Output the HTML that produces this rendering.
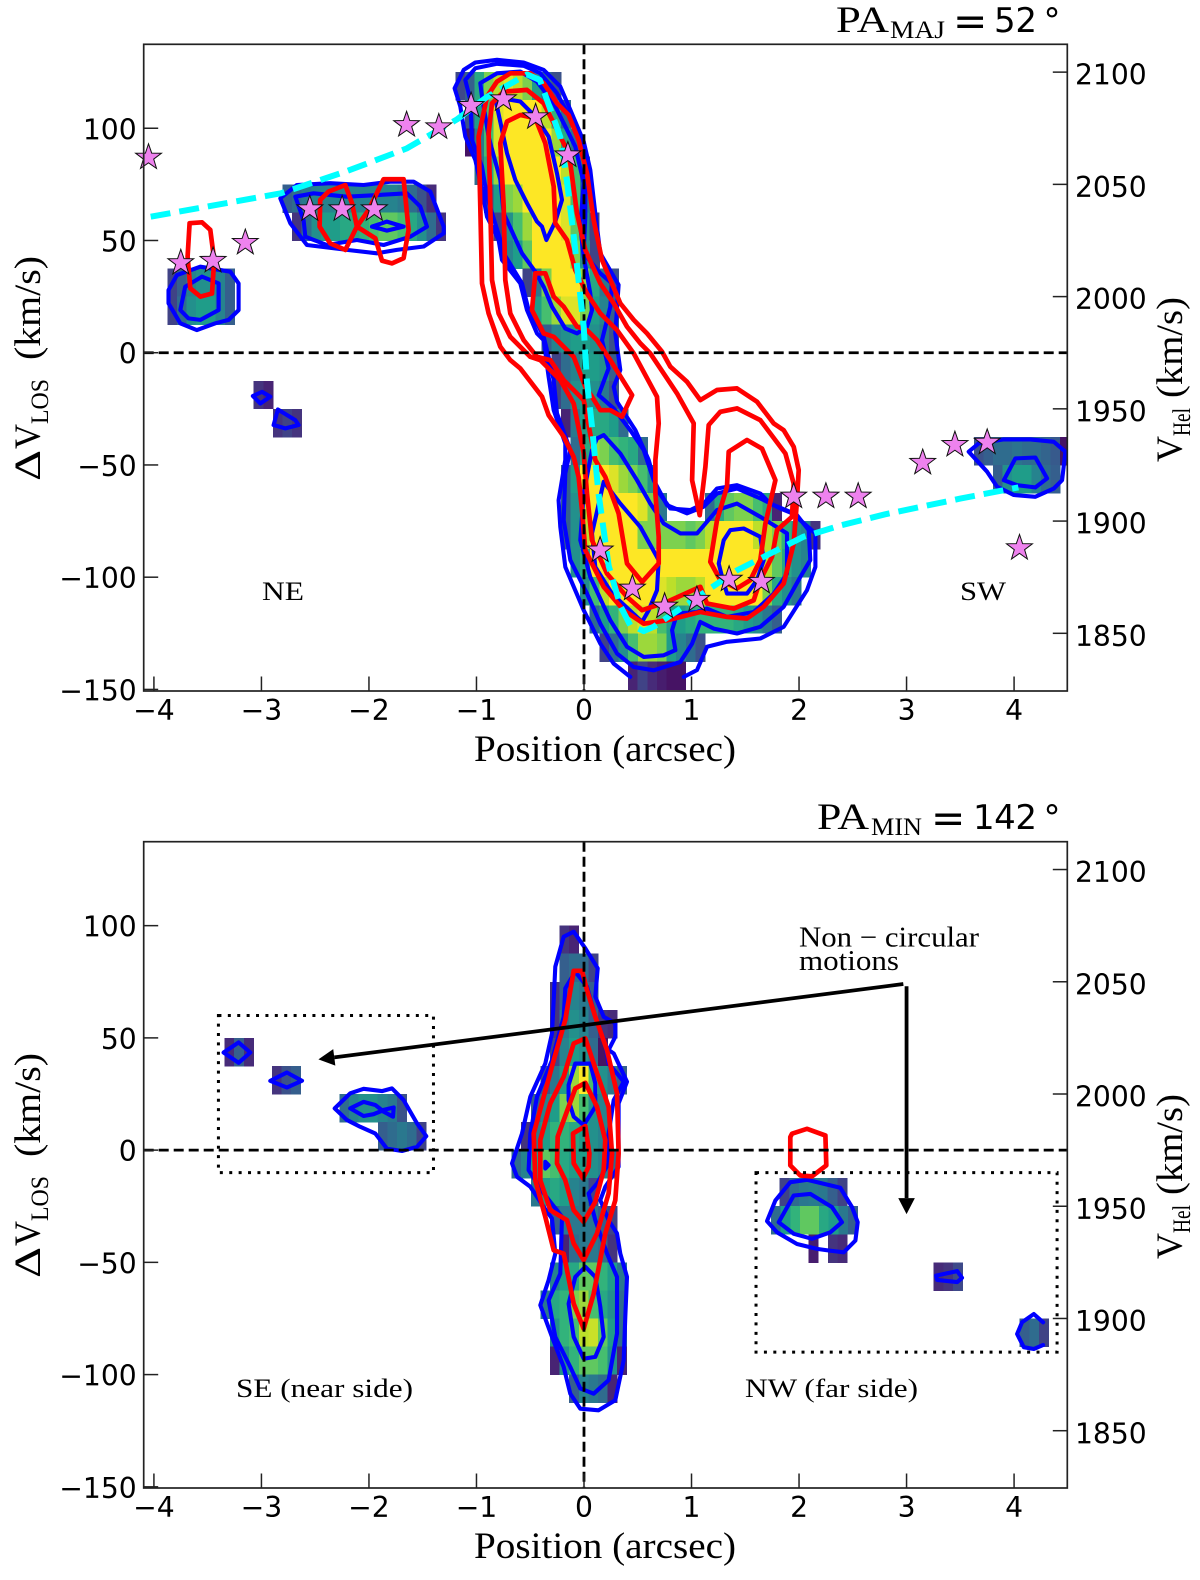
<!DOCTYPE html>
<html lang="en">
<head>
<meta charset="utf-8">
<title>Position-velocity diagrams along PA major and minor axes</title>
<style>
html,body{margin:0;padding:0;background:#fff;}
svg{display:block;}
.tick{font-family:"DejaVu Sans",sans-serif;font-size:28.2px;fill:#000;}
.serif{font-family:"Liberation Serif",serif;fill:#000;}
.dj{font-family:"DejaVu Sans",sans-serif;fill:#000;}
</style>
</head>
<body>
<svg id="chart" xmlns="http://www.w3.org/2000/svg" width="1200" height="1580" viewBox="0 0 1200 1580">
<defs>
<clipPath id="clip-maj"><rect x="143.7" y="44.3" width="923.6" height="646.7"/></clipPath>
<clipPath id="clip-min"><rect x="143.7" y="841.7" width="923.6" height="646.3"/></clipPath>
</defs>
<g id="panel-maj"></g>
<g id="panel-min"></g>

<text class="serif" x="474" y="761" font-size="37" textLength="262" lengthAdjust="spacingAndGlyphs">Position (arcsec)</text>
<text class="serif" x="474" y="1558" font-size="37" textLength="262" lengthAdjust="spacingAndGlyphs">Position (arcsec)</text>

<g>
<text class="serif" font-size="37" transform="translate(40,481) rotate(-90)" textLength="31" lengthAdjust="spacingAndGlyphs">Δ</text>
<text class="serif" font-size="37" transform="translate(40,449) rotate(-90)" textLength="25" lengthAdjust="spacingAndGlyphs">V</text>
<text class="serif" font-size="25" transform="translate(48,424) rotate(-90)" textLength="45" lengthAdjust="spacingAndGlyphs">LOS</text>
<text class="serif" font-size="37" transform="translate(40,360) rotate(-90)" textLength="104" lengthAdjust="spacingAndGlyphs">(km/s)</text>
</g>
<g>
<text class="serif" font-size="37" transform="translate(40,1278) rotate(-90)" textLength="31" lengthAdjust="spacingAndGlyphs">Δ</text>
<text class="serif" font-size="37" transform="translate(40,1246) rotate(-90)" textLength="25" lengthAdjust="spacingAndGlyphs">V</text>
<text class="serif" font-size="25" transform="translate(48,1221) rotate(-90)" textLength="45" lengthAdjust="spacingAndGlyphs">LOS</text>
<text class="serif" font-size="37" transform="translate(40,1157) rotate(-90)" textLength="104" lengthAdjust="spacingAndGlyphs">(km/s)</text>
</g>
<g>
<text class="serif" font-size="37" transform="translate(1182,462) rotate(-90)" textLength="26" lengthAdjust="spacingAndGlyphs">V</text>
<text class="serif" font-size="25" transform="translate(1190,436) rotate(-90)" textLength="28" lengthAdjust="spacingAndGlyphs">Hel</text>
<text class="serif" font-size="37" transform="translate(1182,398) rotate(-90)" textLength="101" lengthAdjust="spacingAndGlyphs">(km/s)</text>
</g>
<g>
<text class="serif" font-size="37" transform="translate(1182,1259) rotate(-90)" textLength="26" lengthAdjust="spacingAndGlyphs">V</text>
<text class="serif" font-size="25" transform="translate(1190,1233) rotate(-90)" textLength="28" lengthAdjust="spacingAndGlyphs">Hel</text>
<text class="serif" font-size="37" transform="translate(1182,1195) rotate(-90)" textLength="101" lengthAdjust="spacingAndGlyphs">(km/s)</text>
</g>

<g>
<text class="serif" font-size="37" x="836" y="32" textLength="53" lengthAdjust="spacingAndGlyphs">PA</text>
<text class="serif" font-size="25" x="890" y="38" textLength="55" lengthAdjust="spacingAndGlyphs">MAJ</text>
<text class="dj" font-size="41" x="953" y="35">=</text>
<text class="dj" font-size="34" x="994" y="32" textLength="43">52</text>
<text class="dj" font-size="34" x="1043.5" y="32">°</text>
</g>
<g>
<text class="serif" font-size="37" x="817" y="829" textLength="52" lengthAdjust="spacingAndGlyphs">PA</text>
<text class="serif" font-size="25" x="871" y="835" textLength="51" lengthAdjust="spacingAndGlyphs">MIN</text>
<text class="dj" font-size="41" x="931" y="832">=</text>
<text class="dj" font-size="34" x="973" y="829" textLength="64">142</text>
<text class="dj" font-size="34" x="1043.5" y="829">°</text>
</g>

<text class="serif" font-size="26" x="262" y="600" textLength="42" lengthAdjust="spacingAndGlyphs">NE</text>
<text class="serif" font-size="26" x="960" y="600" textLength="46" lengthAdjust="spacingAndGlyphs">SW</text>
<text class="serif" font-size="26" x="236" y="1397" textLength="177" lengthAdjust="spacingAndGlyphs">SE (near side)</text>
<text class="serif" font-size="26" x="745" y="1397" textLength="173" lengthAdjust="spacingAndGlyphs">NW (far side)</text>
<text class="serif" font-size="28" x="799" y="946.7" textLength="180" lengthAdjust="spacingAndGlyphs">Non − circular</text>
<text class="serif" font-size="28" x="799" y="970" textLength="100" lengthAdjust="spacingAndGlyphs">motions</text>
</svg>

<script>
/* ---------- axis ticks ---------- */
const xTicks = [-4, -3, -2, -1, 0, 1, 2, 3, 4];
const yTicks = [-150, -100, -50, 0, 50, 100];
const helioTicks = [1850, 1900, 1950, 2000, 2050, 2100];
const systemicVelocity = 1975;

/* ---------- major-axis heat map: row velocity, left edge (arcsec), cell levels 0..1 ---------- */
const majHeatVel = [118.75,106.25,93.75,81.25,68.75,56.25,43.75,31.25,18.75,6.25,-6.25,-18.75,-31.25,-43.75,-56.25,-68.75,-68.75,-81.25,-93.75,-106.25,-118.75,-131.25,-143.75,
  31.25,18.75,68.75,56.25,-18.75,-31.25,-43.75,-56.25];
const majHeatStart = [-1.197,-1.108,-1.108,-1.018,-.929,-.84,-.75,-.572,-.483,-.393,-.304,-.304,-.215,-.125,-.215,-.215,1.125,-.215,-.125,-.036,.053,.143,.41,
  -3.876,-3.876,-2.804,-2.715,-3.072,-2.894,3.625,3.804];
const majHeatVals = [
 [.22,.3,.6,.8,.9,.95,.9,.8,.55,.35,.25],
 [.25,.55,.7,.95,1,1,1,1,.9,.65,.35],
 [.05,.4,.7,.95,1,1,1,1,1,.85,.6,.35],
 [.35,.6,.85,1,1,1,1,1,1,.9,.7,.4],
 [.25,.55,.8,.85,1,1,1,1,.95,.7,.4],
 [.2,.5,.7,.85,1,1,1,.95,.75,.5,.2],
 [.45,.55,.75,1,1,1,1,.8,.5,.2],
 [.2,.4,.8,1,1,1,.85,.6,.4,.25],
 [.55,.7,.85,.95,.95,.8,.55,.45,.3],
 [.3,.45,.5,.55,.55,.5,.4,.25],
 [.2,.35,.45,.55,.55,.5,.3],
 [.2,.35,.5,.55,.5,.4,.25],
 [.1,.4,.55,.6,.6,.55,.35],
 [.35,.6,.85,.8,.7,.65,.6,.35],
 [.3,.55,1,1,1,.95,.85,.8,.7,.5],
 [.3,.5,.9,1,1,1,1,1,.95,.8,.4],
 [.35,.6,.75,.8,.8,.7,.6,.1],
 [.3,.5,.9,1,1,1,1,1,.8,.8,.8,.8,.8,.75,.8,.9,1,1,1,1,.9,.9,.8,.65,.5,.45,.15],
 [.5,.6,1,1,1,1,1,1,1,1,1,1,1,1,1,1,1,1,1,1,.9,.75,.6,.5,.45],
 [.5,.7,.9,1,1,1,1,1,.95,.9,.85,.85,.9,1,1,1,1,1,1,.8,.6,.5,.4],
 [.35,.55,.65,.8,.9,.95,.9,.7,.55,.55,.6,.65,.65,.65,.65,.6,.55,.5,.4,.3],
 [.2,.35,.5,.7,.85,.85,.8,.55,.45,.35,.25],
 [.1,.2,.12,.08,.05,.05],
 [.2,.3,.45,.5,.5,.45,.3],
 [.2,.35,.5,.55,.55,.45,.3],
 [.3,.35,.4,.45,.45,.45,.45,.45,.45,.45,.45,.45,.4,.35,.25,.12],
 [.15,.35,.5,.55,.55,.6,.6,.65,.7,.75,.75,.7,.6,.5,.35,.15],
 [.15,.1],
 [.15,.2,.15],
 [.25,.3,.35,.35,.38,.35,.35,.32,.28,.05],
 [.3,.5,.55,.55,.45,.35,.3]
];

/* ---------- minor-axis heat map ---------- */
const minHeatVel = [93.75,81.25,68.75,56.25,43.75,31.25,18.75,6.25,-6.25,-18.75,-31.25,-43.75,-56.25,-68.75,-81.25,-93.75,-106.25,
  43.75,31.25,18.75,6.25,-18.75,-31.25,-43.75,-43.75,-56.25,-81.25];
const minHeatStart = [-.227,-.227,-.316,-.316,-.316,-.406,-.495,-.584,-.674,-.495,-.316,-.227,-.316,-.406,-.316,-.316,-.138,
  -3.343,-2.902,-2.276,-1.916,1.82,1.74,2.089,2.27,3.252,4.052];
const minHeatVals = [
 [.15,.1],
 [.3,.35,.35,.2],
 [.15,.3,.45,.4,.3],
 [.15,.4,.5,.45,.3,.15,.12],
 [.2,.45,.55,.5,.35,.05],
 [.25,.4,.55,.85,1,.7,.5,.4,.3],
 [.3,.45,.55,.8,.85,.7,.5,.45],
 [.15,.4,.55,.65,.65,.6,.55,.5,.45],
 [.35,.45,.55,.75,.7,.6,.55,.55,.5,.45,.35],
 [.4,.55,.6,.55,.45,.4,.2],
 [.3,.4,.4,.4,.4,.3,.2],
 [.1,.35,.4,.4,.35,.15],
 [.45,.55,.6,.75,.75,.65,.55,.4],
 [.4,.6,.65,.8,.85,.7,.6,.5,.35],
 [.5,.65,.7,.9,.92,.75,.55,.35],
 [.1,.5,.65,.75,.75,.7,.5,.1],
 [.3,.45,.4,.35,.1],
 [.12,.3,.12],
 [.15,.25,.3],
 [.35,.45,.5,.5,.45,.4,.25],
 [.3,.35,.4,.35,.2],
 [.2,.35,.4,.42,.4,.3,.2],
 [.35,.55,.65,.75,.75,.6,.55,.4,.3],
 [.08],
 [.15,.12],
 [.12,.15,.22],
 [.3,.35,.2]
];

/* ---------- rotation model and stellar points ---------- */
const rotationPos = [-4.03,-2.82,-2.2,-1.65,-1.18,-.9,-.53,-.41,-.22,-.16,-.096,-.003,.028,.074,.136,.23,.34,.43,.555,.65,1.42,2.04,2.38,2.8,3.5,4.04];
const rotationVel = [60.6,71,81,91,104,114,124,121.5,96,77,52,11.6,-13,-33,-63,-95,-113,-121.4,-124,-122,-97,-82,-77,-72,-65,-60];
const starPos = [-4.05,-3.75,-3.45,-3.15,-2.55,-2.25,-1.95,-1.65,-1.35,-1.05,-.75,-.45,-.15,.15,.45,.75,1.05,1.35,1.65,1.95,2.25,2.55,3.15,3.45,3.75,4.05];
const starVel = [87,40,41,49,64,64,64,101.5,100.5,110,113,105,88,-88,-105,-113,-110,-101,-102,-64,-64,-64,-49,-41,-40,-87];

/* ---------- major-axis contours [arcsec, km/s] ---------- */
const majBlueOuter = [[.431,-144.4],[.276,-138.5],[.152,-129.6],[-.003,-114.7],[-.174,-95.4],[-.22,-77.6],[-.236,-65.7],[-.174,-47.8],[-.174,-40.4],[-.282,-25.6],[-.329,-10.7],[-.375,5.6],[-.437,8.6],[-.53,19],[-.592,30.9],[-.763,41.3],[-.794,50.2],[-.902,60.6],[-.949,72.5],[-1.011,85.9],[-1.104,96.3],[-1.15,109.7],[-1.203,117.8],[-1.119,126],[-1.011,129.3],[-.809,130.5],[-.561,129.3],[-.375,126],[-.22,118.6],[-.127,108.2],[-.003,94.1],[.059,81.4],[.105,62.1],[.152,44.3],[.322,30.2],[.291,8.6],[.338,-7.7],[.276,-15.2],[.307,-21.8],[.478,-34.5],[.602,-47.8],[.679,-61.2],[.803,-69.4],[.989,-70.1],[1.113,-67.2],[1.237,-60.5],[1.423,-59],[1.64,-62.7],[1.733,-67.2],[1.919,-70.9],[2.012,-74.6],[2.152,-80.5],[2.152,-95.4],[2.074,-105.8],[1.857,-122.1],[1.64,-127.3],[1.33,-128.8],[1.144,-131],[1.051,-141.4],[.927,-144.4]];
const majBlueMid = [[.648,-141.5],[.462,-140],[.307,-134],[.152,-120.7],[.028,-107.3],[-.127,-92.4],[-.189,-74.6],[-.174,-53.8],[-.127,-43.4],[-.251,-27],[-.282,-12.2],[-.329,-1.8],[-.375,7.1],[-.422,11.6],[-.515,19],[-.577,30.9],[-.747,44.3],[-.778,50.2],[-.902,69.5],[-.949,82.9],[-1.042,94.8],[-1.057,112.6],[-1.104,121.5],[-1.011,126.7],[-.809,128.7],[-.561,127.8],[-.406,124.5],[-.251,115.6],[-.143,105.9],[-.034,94.8],[.012,82.9],[.012,60.6],[-.003,44.3],[.152,35.4],[.26,30.9],[.245,20.5],[.167,5.6],[.229,-7],[.136,-18.9],[.276,-24.8],[.431,-34.5],[.555,-43.4],[.648,-56.8],[.772,-67.9],[.958,-71.6],[1.113,-68.6],[1.237,-62.7],[1.423,-60.5],[1.64,-64.9],[1.826,-69.4],[1.981,-72.4],[2.09,-79],[2.105,-92.4],[2.012,-99.9],[1.857,-113.2],[1.64,-122.1],[1.423,-125.1],[1.206,-122.9],[1.082,-119.9],[1.005,-129.6],[.896,-137.8]];
const majBlueUpper = [[-.949,114.1],[-.964,120.1],[-.809,124.5],[-.592,125.3],[-.437,120.8],[-.282,111.1],[-.158,99.3],[-.081,91.8],[-.003,75.5],[-.034,56.2],[-.003,42.8],[.059,26.4],[.074,19],[.028,11.6],[-.065,8.6],[-.174,10.8],[-.298,20.5],[-.375,29.4],[-.453,36.1],[-.577,44.3],[-.747,62.1],[-.778,77],[-.887,96.3]];
const majBlueLower = [[.074,-43.4],[.121,-38.2],[.183,-36.7],[.338,-44.9],[.493,-56.8],[.617,-67.2],[.741,-76.1],[.896,-80.5],[1.051,-80.5],[1.237,-70.1],[1.423,-67.2],[1.64,-73.1],[1.888,-80.5],[1.888,-98.4],[1.764,-107.3],[1.578,-115.5],[1.33,-117.7],[1.144,-114],[1.051,-115.5],[.865,-116.2],[.819,-123.6],[.85,-132.5],[.741,-134.8],[.555,-135.5],[.4,-131],[.245,-119.2],[.059,-99.9],[-.034,-83.5],[-.003,-62.7]];
const majBlueCoreTop = [[-.816,111.1],[-.716,88.9],[-.639,77],[-.53,66.6],[-.437,58.4],[-.391,56.2],[-.35,50.2],[-.267,58.4],[-.205,68.1],[-.251,79.9],[-.329,96.3],[-.453,105.2],[-.592,111.9],[-.778,113.4]];
const majBlueCoreLow = [[.183,-57.5],[.074,-80.5],[.105,-95.4],[.26,-107.3],[.54,-119.9],[.602,-114.7],[.679,-105.8],[.695,-92.4],[.524,-77.6],[.338,-67.2]];
const majBlueCoreRight = [[1.299,-83.5],[1.361,-79],[1.485,-78.3],[1.64,-82],[1.671,-92.4],[1.609,-101.3],[1.516,-107.3],[1.33,-107.3],[1.284,-99.9],[1.253,-93.9]];
const majBlueBlobA = [[-3.864,27.9],[-3.786,34.6],[-3.569,38.3],[-3.29,36.1],[-3.212,30.9],[-3.212,19],[-3.305,14.6],[-3.429,13.1],[-3.6,10.1],[-3.755,13.1],[-3.864,22]];
const majBlueBlobAInner = [[-3.755,19],[-3.709,29.4],[-3.553,33.9],[-3.398,30.9],[-3.398,19],[-3.569,14.6],[-3.678,15.3]];
const majBlueBlobB = [[-2.825,68.8],[-2.67,74.7],[-2.36,75.5],[-2.05,74.7],[-1.802,76.2],[-1.585,76.2],[-1.429,71.8],[-1.305,56.2],[-1.305,53.2],[-1.491,47.3],[-1.74,45.8],[-1.926,44.3],[-2.205,45.8],[-2.577,48],[-2.732,57.7]];
const majBlueBlobBInner = [[-2.685,69.5],[-2.515,71],[-2.205,69.5],[-1.895,70.3],[-1.647,71],[-1.522,65.1],[-1.46,56.2],[-1.616,51.7],[-1.864,48],[-2.112,50.2],[-2.391,48],[-2.592,51.7],[-2.608,59.1]];
const majBlueBlobBCore = [[-1.972,56.2],[-1.833,58.4],[-1.678,56.2],[-1.833,54.4]];
const majBlueSpotA = [[-3.079,-19.3],[-2.995,-17.4],[-2.918,-19.6],[-3.011,-22.6]];
const majBlueSpotB = [[-2.847,-25.3],[-2.685,-30],[-2.654,-32.2],[-2.778,-33.7],[-2.887,-32.2]];
const majBlueSw = [[3.578,-44.1],[3.671,-40.4],[3.904,-38.6],[4.152,-38.6],[4.369,-39.7],[4.477,-44.1],[4.447,-56.8],[4.369,-60.5],[4.198,-64.2],[3.997,-63.4],[3.842,-59.7],[3.749,-53]];
const majBlueSwInner = [[3.904,-56.8],[4.012,-47.1],[4.198,-46.7],[4.307,-56],[4.198,-60],[4.028,-59]];
const majRedOuter = [[-.499,124.5],[-.375,120.1],[-.251,111.1],[-.143,105.9],[-.05,94.8],[.028,79.9],[.09,59.1],[.167,41.3],[.338,22],[.462,14.6],[.586,8.6],[.726,.4],[.803,-6.2],[.958,-12.9],[1.082,-21.1],[1.237,-16.6],[1.423,-15.9],[1.609,-21.8],[1.764,-31.5],[1.857,-34.5],[1.95,-41.9],[1.997,-52.3],[1.981,-65.7],[1.95,-85],[1.857,-102.8],[1.671,-113.2],[1.516,-118.4],[1.33,-117.7],[1.082,-115.5],[.772,-119.2],[.555,-120.7],[.369,-114.7],[.183,-104.3],[.012,-88],[-.019,-70.1],[-.05,-55.3],[-.096,-46.4],[-.189,-37.4],[-.329,-27.8],[-.391,-19.6],[-.592,-7],[-.685,-3.3],[-.778,2.7],[-.887,17.5],[-.949,30.9],[-.964,65.1],[-.98,96.3],[-.902,114.1],[-.809,120.8],[-.685,124.5]];
const majRedMid = [[-.53,117.1],[-.375,111.1],[-.251,99.3],[-.158,90.3],[-.127,84.4],[-.065,62.1],[.012,45.8],[.152,30.9],[.276,22],[.4,11.6],[.524,4.2],[.617,-.3],[.865,-18.1],[1.02,-31.5],[1.005,-56.8],[1.076,-72.4],[1.129,-50.8],[1.16,-32.2],[1.268,-26.3],[1.423,-24.8],[1.64,-30],[1.873,-44.9],[1.95,-58.3],[1.935,-73.1],[1.795,-79],[1.749,-90.9],[1.64,-101.3],[1.578,-110.3],[1.392,-114],[1.144,-111.7],[1.082,-104.3],[.772,-111],[.54,-114.7],[.4,-108.8],[.214,-98.4],[.074,-83.5],[.028,-62.7],[-.003,-44.9],[-.096,-22.6],[-.22,-12.2],[-.406,-3.3],[-.499,-1.8],[-.685,7.1],[-.794,17.5],[-.856,32.4],[-.871,65.1],[-.887,97.8],[-.856,111.1],[-.747,116.3]];
const majRedInner = [[-.592,105.9],[-.453,104.5],[-.36,93.3],[-.282,74],[-.267,57.7],[-.158,50.2],[-.081,36.8],[.028,26.4],[.152,17.5],[.307,10.1],[.462,-.3],[.679,-19.6],[.695,-31.5],[.664,-47.8],[.664,-62.7],[.695,-82],[.695,-93.9],[.54,-102.1],[.4,-93.9],[.322,-71.6],[.198,-55.3],[.105,-47.8],[-.003,-21.1],[-.189,-12.2],[-.313,-3.3],[-.437,-1.8],[-.561,5.6],[-.685,17.5],[-.732,32.4],[-.747,65.1],[-.778,93.3],[-.716,103]];
const majRedLobe = [[-.453,35.4],[-.36,35.4],[-.282,25],[-.189,20.5],[-.065,11.6],[.028,10.1],[.121,5.6],[.245,-3.3],[.447,-18.9],[.353,-28.5],[.245,-25.6],[.152,-25.6],[.074,-19.6],[.012,-15.2],[-.096,-1.8],[-.282,7.1],[-.375,8.6],[-.484,19]];
const majRedHook = [[1.346,-44.1],[1.516,-38.9],[1.656,-42.7],[1.78,-56.8],[1.687,-76.1],[1.64,-92.4],[1.547,-101.3],[1.423,-105],[1.268,-101.3],[1.175,-93.2],[1.237,-74.6],[1.33,-59.7]];
const majRedBlobA = [[-3.668,57.7],[-3.553,58.1],[-3.476,54.7],[-3.439,41.3],[-3.46,26.4],[-3.569,25],[-3.662,28.7],[-3.687,42.8]];
const majRedBlobB = [[-2.453,68.1],[-2.375,71.8],[-2.22,74.7],[-2.158,66.6],[-2.112,56.2],[-2.22,45.8],[-2.36,48.7],[-2.459,56.2]];
const majRedBlobC = [[-2.112,56.2],[-2.003,63.6],[-1.864,77.3],[-1.678,77.3],[-1.631,54.7],[-1.678,42.1],[-1.786,39.8],[-1.879,41],[-1.941,51]];

/* ---------- minor-axis contours [arcsec, km/s] ---------- */
const minBlueOuter = [[-.096,97.3],[.012,89.9],[.127,81],[.105,68.4],[.183,59.4],[.291,56.5],[.291,50.5],[.229,44.6],[.276,43.1],[.4,30.5],[.322,20.8],[.322,-7.4],[.198,-16.3],[.152,-22.3],[.229,-31.2],[.307,-37.1],[.338,-46.1],[.4,-56.5],[.384,-74.3],[.369,-93.6],[.291,-111.4],[.136,-115.9],[-.034,-115.2],[-.127,-108.5],[-.189,-96.6],[-.298,-83.2],[-.406,-69.1],[-.329,-57.9],[-.267,-46.1],[-.298,-30.5],[-.375,-25.3],[-.499,-16.3],[-.623,-11.9],[-.67,-5.9],[-.577,7.4],[-.499,23.8],[-.36,38.6],[-.298,52],[-.282,66.9],[-.267,81.7],[-.189,95.1]];
const minBlueMid = [[-.081,79.5],[.028,72.8],[.105,59.4],[.198,47.5],[.229,38.6],[.307,34.2],[.369,30.5],[.276,22.3],[.229,7.4],[.229,-5.9],[.121,-14.9],[.043,-19.3],[.105,-31.2],[.214,-46.1],[.307,-56.5],[.307,-81.7],[.229,-102.5],[.09,-108.5],[-.034,-106.2],[-.127,-96.6],[-.267,-83.2],[-.329,-66.9],[-.22,-55],[-.205,-29.7],[-.375,-19.3],[-.515,-8.9],[-.499,7.4],[-.437,23.8],[-.298,40.1],[-.189,59.4],[-.174,72.1]];
const minBlueCoreTop = [[-.143,29],[-.081,38.6],[.059,38.6],[.105,29.7],[.105,19.3],[-.003,11.1],[-.096,14.9],[-.143,22.3]];
const minBlueCoreLow = [[-.143,-68.4],[-.081,-56.5],[.012,-52],[.105,-56.5],[.152,-69.8],[.183,-83.2],[.105,-92.1],[-.003,-92.9],[-.096,-83.2]];
const minBlueTiny = [[-.36,-5.2],[-.329,-6.7],[-.36,-8.2]];
const minBlueSeA = [[-3.352,43.5],[-3.212,48],[-3.104,43.5],[-3.212,38.9]];
const minBlueSeB = [[-2.918,30.9],[-2.763,34.6],[-2.623,30.9],[-2.763,27.9]];
const minBlueSeC = [[-2.319,18.6],[-2.174,25.3],[-2.05,27.3],[-1.879,26.3],[-1.786,27.5],[-1.678,22.3],[-1.553,11.9],[-1.467,6.2],[-1.553,1.5],[-1.693,-.4],[-1.833,.7],[-1.941,7.4],[-2.081,10.4],[-2.205,13.4]];
const minBlueSeCInner = [[-2.174,18.6],[-2.05,21.5],[-1.941,20.1],[-1.879,17.8],[-1.77,19],[-1.776,14.9],[-1.879,17.5],[-1.957,16],[-2.05,15.2]];
const minBlueNwA = [[1.702,-31.6],[1.78,-22.4],[1.919,-14.3],[2.074,-13.2],[2.384,-16.8],[2.493,-25.4],[2.546,-32.1],[2.524,-40.3],[2.415,-45.5],[2.276,-44.7],[2.167,-44],[1.981,-41.8],[1.795,-36.6]];
const minBlueNwAInner = [[1.811,-32.1],[1.95,-20.2],[2.105,-19.5],[2.307,-25.4],[2.4,-32.1],[2.291,-36.6],[2.121,-39.5],[1.95,-37.3]];
const minBlueNwB = [[3.275,-55.9],[3.471,-53.9],[3.516,-56.9],[3.471,-58.8],[3.284,-57.8]];
const minBlueNwC = [[4.27,-76.7],[4.183,-73],[4.074,-76.7],[4.028,-81.9],[4.09,-87.8],[4.183,-88.6],[4.27,-86.8]];
const minRedOuter = [[-.096,79.9],[-.019,79.9],[.028,71.3],[.105,59.4],[.214,44.6],[.307,25.3],[.322,-1.5],[.291,-22.3],[.198,-37.1],[.09,-63.9],[-.003,-79.5],[-.096,-68.4],[-.189,-46.1],[-.282,-44.6],[-.36,-29.7],[-.453,-13.4],[-.468,7.4],[-.375,23.8],[-.282,40.1],[-.174,58]];
const minRedMid = [[-.096,47.5],[.012,49.8],[.121,34.2],[.229,19.3],[.26,-1.5],[.229,-19.3],[.121,-37.1],[-.003,-49],[-.096,-41.6],[-.158,-31.2],[-.236,-29],[-.313,-26.7],[-.406,-13.4],[-.406,4.5],[-.313,20.8],[-.189,32.7]];
const minRedInner = [[-.081,27.5],[.012,30],[.121,19.3],[.198,4.5],[.183,-8.9],[.105,-23],[-.003,-32],[-.096,-26.7],[-.174,-13.4],[-.251,-5.9],[-.245,6],[-.143,19.3]];
const minRedCore = [[-.102,7.4],[.012,10.7],[.05,-1.5],[.043,-7.4],[-.009,-12.6],[-.096,-5.9]];
const minRedNw = [[1.919,5.8],[1.935,7.3],[2.074,9.5],[2.245,6.5],[2.254,-6.8],[2.121,-11.7],[2.012,-11.3],[1.919,-6.8]];

/* ---------- annotation geometry in data units: x0, x1, v0, v1 ---------- */
const boxLeft = [-3.4, -1.4, 60, -10];
const boxRight = [1.6, 4.4, -10, -90];
const arrowOrigin = [2.97, 74];
const arrowTipLeft = [-2.47, 40.4];
const arrowVerticalStart = [3.0, 73];
const arrowTipDown = [3.0, -28.5];

const majBlue = [majBlueMid,majBlueUpper,majBlueLower,majBlueCoreTop,majBlueCoreLow,majBlueCoreRight,majBlueBlobA,majBlueBlobAInner,majBlueBlobB,majBlueBlobBInner,majBlueBlobBCore,majBlueSpotA,majBlueSpotB,majBlueSw,majBlueSwInner];
const majRed = [majRedOuter,majRedMid,majRedInner,majRedLobe,majRedHook,majRedBlobA,majRedBlobB,majRedBlobC];
const minBlue = [minBlueOuter,minBlueMid,minBlueCoreTop,minBlueCoreLow,minBlueTiny,minBlueSeA,minBlueSeB,minBlueSeC,minBlueSeCInner,minBlueNwA,minBlueNwAInner,minBlueNwB];
const minRed = [minRedOuter,minRedMid,minRedInner,minRedCore,minRedNw];

/* ---------- scales ---------- */
const NS = 'http://www.w3.org/2000/svg';
const AX_L = 143.7, AX_R = 1067.3, X_MIN = -4.095, X_MAX = 4.495;
const V_MAX = 137.4, V_MIN = -150.7, V_SCALE = 2.2447;
const CELL_W = 0.0893, CELL_H = 12.5;
const BLUE_W = 4.1, RED_W = 4.7;
const xScale = x => AX_L + (x - X_MIN) * (AX_R - AX_L) / (X_MAX - X_MIN);
const yScaleFor = top => v => top + (V_MAX - v) * V_SCALE;

const viridis = [[68,1,84],[72,40,120],[62,74,137],[49,104,142],[38,130,142],[31,158,137],[53,183,121],[110,206,88],[181,222,43],[253,231,37]];
function viridisColor(t){
  const p = Math.max(0, Math.min(1, t)) * (viridis.length - 1);
  const i = Math.min(viridis.length - 2, Math.floor(p));
  const f = p - i;
  const c = viridis[i].map((a, k) => Math.round(a + (viridis[i + 1][k] - a) * f));
  return 'rgb(' + c.join(',') + ')';
}

function addEl(parent, tag, attrs, name){
  const el = document.createElementNS(NS, tag);
  for (const k in attrs) el.setAttribute(k, attrs[k]);
  
  
  parent.appendChild(el);
  return el;
}

function pointsOf(list, xs, ys){
  return list.map(p => xs(p[0]).toFixed(1) + ',' + ys(p[1]).toFixed(1)).join(' ');
}

function drawHeat(group, vels, starts, vals, ys){
  vels.forEach((v, r) => {
    vals[r].forEach((t, c) => {
      const x0 = xScale(starts[r] + c * CELL_W);
      const x1 = xScale(starts[r] + (c + 1) * CELL_W);
      const y0 = ys(v + CELL_H / 2);
      const y1 = ys(v - CELL_H / 2);
      addEl(group, 'rect', {x: x0.toFixed(2), y: y0.toFixed(2), width: (x1 - x0 + .4).toFixed(2), height: (y1 - y0 + .4).toFixed(2), fill: viridisColor(t)}, 'heatmap-cell');
    });
  });
}

function drawContour(group, list, ys, color, width, open, name){
  addEl(group, open ? 'polyline' : 'polygon', {points: pointsOf(list, xScale, ys), fill: 'none', stroke: color, 'stroke-width': width, 'stroke-linejoin': 'round', 'stroke-linecap': 'round'}, name);
}

function drawStar(group, x, v, ys){
  const cx = xScale(x), cy = ys(v), pts = [];
  for (let i = 0; i < 10; i++){
    const r = i % 2 ? 5.4 : 13.6;
    const a = -Math.PI / 2 + i * Math.PI / 5;
    pts.push((cx + r * Math.cos(a)).toFixed(1) + ',' + (cy + r * Math.sin(a)).toFixed(1));
  }
  addEl(group, 'polygon', {points: pts.join(' '), fill: '#ee82ee', stroke: '#111', 'stroke-width': 1}, 'stellar-point');
}

function drawArrow(group, from, to, ys, name){
  const x0 = xScale(from[0]), y0 = ys(from[1]), x1 = xScale(to[0]), y1 = ys(to[1]);
  const a = Math.atan2(y1 - y0, x1 - x0);
  const bx = x1 - 16 * Math.cos(a), by = y1 - 16 * Math.sin(a);
  addEl(group, 'line', {x1: x0, y1: y0, x2: bx, y2: by, stroke: '#000', 'stroke-width': 3.8}, name + '-shaft');
  const nx = -Math.sin(a) * 8.3, ny = Math.cos(a) * 8.3;
  addEl(group, 'polygon', {points: x1 + ',' + y1 + ' ' + (bx + nx) + ',' + (by + ny) + ' ' + (bx - nx) + ',' + (by - ny), fill: '#000'}, name + '-head');
}

function drawAxes(group, top, bottom, ys, prefix){
  const fmt = n => n < 0 ? '\u2212' + (-n) : String(n);
  xTicks.forEach(t => {
    const x = xScale(t);
    addEl(group, 'line', {x1: x, x2: x, y1: bottom, y2: bottom - 14.5, stroke: '#222', 'stroke-width': 1.5}, prefix + '-x-tick');
    const lab = addEl(group, 'text', {x: x, y: bottom + 29, 'text-anchor': 'middle', class: 'tick'}, prefix + '-x-tick-label');
    lab.textContent = fmt(t);
  });
  yTicks.forEach(t => {
    const y = ys(t);
    addEl(group, 'line', {x1: AX_L, x2: AX_L + 14.5, y1: y, y2: y, stroke: '#222', 'stroke-width': 1.5}, prefix + '-y-tick');
    const lab = addEl(group, 'text', {x: 136.7, y: y + 11, 'text-anchor': 'end', class: 'tick'}, prefix + '-y-tick-label');
    lab.textContent = fmt(t);
  });
  helioTicks.forEach(t => {
    const y = ys(t - systemicVelocity);
    addEl(group, 'line', {x1: AX_R - 14.5, x2: AX_R, y1: y, y2: y, stroke: '#222', 'stroke-width': 1.5}, prefix + '-helio-tick');
    const lab = addEl(group, 'text', {x: 1075, y: y + 12.6, class: 'tick'}, prefix + '-helio-tick-label');
    lab.textContent = String(t);
  });
  addEl(group, 'rect', {x: AX_L, y: top, width: AX_R - AX_L, height: bottom - top, fill: 'none', stroke: '#222', 'stroke-width': 1.7}, prefix + '-axes-frame');
}

function drawZeroLines(group, top, bottom, ys, prefix){
  addEl(group, 'line', {x1: AX_L, x2: AX_R, y1: ys(0), y2: ys(0), stroke: '#000', 'stroke-width': 2.8, 'stroke-dasharray': '10 5'}, prefix + '-zero-velocity-line');
  addEl(group, 'line', {x1: xScale(0), x2: xScale(0), y1: top, y2: bottom, stroke: '#000', 'stroke-width': 2.8, 'stroke-dasharray': '10 5'}, prefix + '-zero-position-line');
}

/* ---------- major panel ---------- */
(function(){
  const root = document.getElementById('panel-maj');
  const ys = yScaleFor(44.3);
  const g = addEl(root, 'g', {'clip-path': 'url(#clip-maj)'}, 'major-plot-area');
  const heat = addEl(g, 'g', {'shape-rendering': 'crispEdges'}, 'major-heatmap');
  drawHeat(heat, majHeatVel, majHeatStart, majHeatVals, ys);
  drawContour(g, majBlueOuter, ys, '#0000ff', BLUE_W, true, 'major-blue-contour-outer');
  majBlue.forEach(list => drawContour(g, list, ys, '#0000ff', BLUE_W, false, 'major-blue-contour'));
  majRed.forEach(list => drawContour(g, list, ys, '#ff0000', RED_W, false, 'major-red-contour'));
  drawZeroLines(g, 44.3, 691, ys, 'major');
  const model = rotationPos.map((p, i) => [p, rotationVel[i]]);
  addEl(g, 'polyline', {points: pointsOf(model, xScale, ys), fill: 'none', stroke: '#00ffff', 'stroke-width': 6, 'stroke-dasharray': '20 9', 'stroke-linejoin': 'round'}, 'rotation-model-line');
  starPos.forEach((p, i) => drawStar(root, p, starVel[i], ys));
  drawAxes(root, 44.3, 691, ys, 'major');
})();

/* ---------- minor panel ---------- */
(function(){
  const root = document.getElementById('panel-min');
  const ys = yScaleFor(841.7);
  const g = addEl(root, 'g', {'clip-path': 'url(#clip-min)'}, 'minor-plot-area');
  const heat = addEl(g, 'g', {'shape-rendering': 'crispEdges'}, 'minor-heatmap');
  drawHeat(heat, minHeatVel, minHeatStart, minHeatVals, ys);
  minBlue.forEach(list => drawContour(g, list, ys, '#0000ff', BLUE_W, false, 'minor-blue-contour'));
  drawContour(g, minBlueNwC, ys, '#0000ff', BLUE_W, true, 'minor-blue-contour-open');
  minRed.forEach(list => drawContour(g, list, ys, '#ff0000', RED_W, false, 'minor-red-contour'));
  drawZeroLines(g, 841.7, 1488, ys, 'minor');
  [boxLeft, boxRight].forEach(b => {
    addEl(root, 'rect', {x: xScale(b[0]), y: ys(b[2]), width: xScale(b[1]) - xScale(b[0]), height: ys(b[3]) - ys(b[2]), fill: 'none', stroke: '#000', 'stroke-width': 3, 'stroke-dasharray': '3 6.4'}, 'non-circular-region-box');
  });
  drawArrow(root, arrowOrigin, arrowTipLeft, ys, 'non-circular-arrow-left');
  drawArrow(root, arrowVerticalStart, arrowTipDown, ys, 'non-circular-arrow-down');
  drawAxes(root, 841.7, 1488, ys, 'minor');
})();
</script>
</body>
</html>
